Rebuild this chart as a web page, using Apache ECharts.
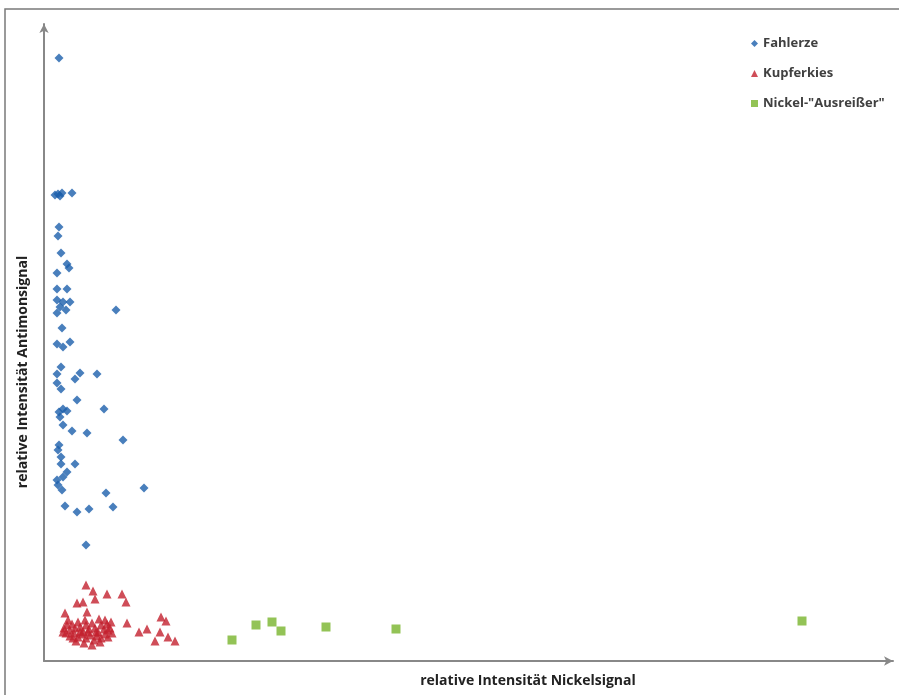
<!DOCTYPE html>
<html>
<head>
<meta charset="utf-8">
<script src="https://cdn.jsdelivr.net/npm/echarts@6/dist/echarts.min.js"></script>
<style>html,body{margin:0;padding:0;background:#fff}#c{width:899px;height:695px}</style>
</head>
<body>
<div id="c"></div>
<script>
// relative Intensität Nickelsignal (x), Antimonsignal (y), arbitrary units
const fahlerze = [
  [15,603],
  [11,466],[14,467],[18,468],[16,465],[28,468],
  [15,434],[14,425],[17,408],
  [23,397],[25,393],[13,388],
  [13,372],[23,372],[13,361],[19,359],[26,359],[16,354],[22,351],[13,348],[72,351],
  [18,333],
  [13,317],[19,314],[26,319],
  [17,294],[13,287],[36,288],[53,287],[31,282],[13,278],[17,272],
  [33,261],[15,249],[19,252],[23,250],[60,252],[16,244],[19,236],[28,230],[43,228],[79,221],
  [15,216],[14,211],[17,204],[31,197],[17,197],
  [23,189],[19,184],[13,181],[14,176],[18,171],[100,173],[62,168],[21,155],[33,149],[45,152],[69,154],
  [42,116]
];
const kupferkies = [
  [42,76],[49,70],[51,62],[63,67],[78,67],[82,59],[33,58],[39,59],[21,48],[43,49],
  [83,38],[117,44],[122,40],[95,29],[103,32],[116,29],[111,20],[124,24],[131,20],
  [20,33],[23,36],[26,31],[28,37],[31,33],[34,39],[36,34],[39,30],[42,36],[45,32],
  [48,38],[51,33],[54,29],[57,36],[60,32],[63,37],[66,33],[68,28],[22,28],[26,25],
  [30,28],[34,24],[38,27],[42,23],[46,26],[50,21],[53,25],[57,23],[61,27],[64,24],
  [32,20],[40,18],[48,16],[56,19],[44,29],[36,29],[52,29],[64,31],[19,29],[29,23],
  [67,39],[61,41],[24,41],[41,41],[55,42]
];
const nickelAusreisser = [
  [188,21],[212,36],[228,39],[237,30],[282,34],[352,32],[758,40]
];
const seriesNames = ['Fahlerze','Kupferkies','Nickel-"Ausreißer"'];
const xTitle = 'relative Intensität Nickelsignal';
const yTitle = 'relative Intensität Antimonsignal';

const chart = echarts.init(document.getElementById('c'), null, {renderer:'canvas'});
const fontFam = '"Open Sans", "Liberation Sans", sans-serif';
chart.setOption({
  animation:false,
  backgroundColor:'#fff',
  grid:{left:44,right:6,top:24,bottom:34,containLabel:false},
  xAxis:{type:'value',min:0,max:849,
    axisLine:{show:true,symbol:['none','arrow'],symbolSize:[7,9],lineStyle:{color:'#888',width:2}},
    axisTick:{show:false},axisLabel:{show:false},splitLine:{show:false}},
  yAxis:{type:'value',min:0,max:637,
    axisLine:{show:true,symbol:['none','arrow'],symbolSize:[7,9],lineStyle:{color:'#888',width:2}},
    axisTick:{show:false},axisLabel:{show:false},splitLine:{show:false}},
  legend:{orient:'vertical',left:746,top:32,itemWidth:7,itemHeight:7,itemGap:17,
    textStyle:{fontFamily:fontFam,fontSize:13,fontWeight:'bold',color:'#404040'},
    data:[
      {name:seriesNames[0],icon:'diamond'},
      {name:seriesNames[1],icon:'triangle'},
      {name:seriesNames[2],icon:'rect'}
    ]},
  graphic:[
    {type:'rect',shape:{x:5,y:9,width:1000,height:1000},style:{fill:'none',stroke:'#7a7a7a',lineWidth:1.5},z:0,silent:true},
    {type:'text',x:528,y:681,style:{text:xTitle,fontFamily:fontFam,fontSize:14,fontWeight:'bold',fill:'#222',textAlign:'center',textVerticalAlign:'middle'}},
    {type:'text',x:23,y:372,rotation:Math.PI/2,style:{text:yTitle,fontFamily:fontFam,fontSize:14,fontWeight:'bold',fill:'#222',textAlign:'center',textVerticalAlign:'middle'}}
  ],
  series:[
    {name:seriesNames[0],type:'scatter',symbol:'diamond',symbolSize:9,data:fahlerze,itemStyle:{color:'#1c5fab'}},
    {name:seriesNames[1],type:'scatter',symbol:'triangle',symbolSize:9,data:kupferkies,itemStyle:{color:'#c3202e'}},
    {name:seriesNames[2],type:'scatter',symbol:'rect',symbolSize:9,data:nickelAusreisser,itemStyle:{color:'#78b42c'}}
  ]
});
</script>
</body>
</html>
